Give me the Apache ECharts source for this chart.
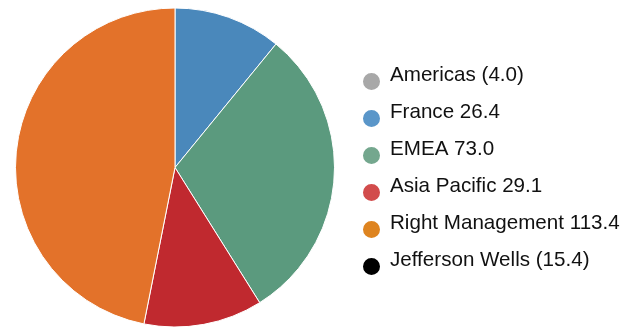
<!DOCTYPE html>
<html>
<head>
<meta charset="utf-8">
<script src="https://cdn.jsdelivr.net/npm/echarts@6/dist/echarts.min.js"></script>
<style>html,body{margin:0;padding:0;background:#fff}#c{width:636px;height:329px}</style>
</head>
<body>
<div id="c"></div>
<script>
const categories = ['Americas', 'France', 'EMEA', 'Asia Pacific', 'Right Management', 'Jefferson Wells'];
const values = [-4.0, 26.4, 73.0, 29.1, 113.4, -15.4];
const sliceColors = ['#a8a8a8', '#4a88bb', '#5b9a7e', '#c0292f', '#e3722a', '#000000'];
const legendColors = ['#a8a8a8', '#5a96c9', '#74a78e', '#d24c4c', '#de8420', '#000000'];

function fmt(v) { return v < 0 ? '(' + Math.abs(v).toFixed(1) + ')' : v.toFixed(1); }

const chart = echarts.init(document.getElementById('c'), null, { renderer: 'canvas' });
const labelMap = {};
categories.forEach((c, i) => { labelMap[c] = c + ' ' + fmt(values[i]); });

chart.setOption({
  animation: false,
  legend: {
    orient: 'vertical',
    left: 361,
    top: 65,
    padding: 0,
    itemGap: 4,
    itemWidth: 19,
    itemHeight: 19,
    icon: 'circle',
    selectedMode: false,
    formatter: name => '{t|' + labelMap[name] + '}',
    textStyle: {
      fontFamily: 'Liberation Sans, Arial, sans-serif', fontSize: 20.6, color: '#111',
      rich: { t: { fontFamily: 'Liberation Sans, Arial, sans-serif', fontSize: 20.6, color: '#111', lineHeight: 20, padding: [0, 0, 12, 4] } }
    },
    data: categories.map((c, i) => ({ name: c, itemStyle: { color: legendColors[i] } }))
  },
  series: [{
    type: 'pie',
    center: [175, 167.5],
    radius: [0, 159.5],
    startAngle: 90,
    clockwise: true,
    label: { show: false },
    labelLine: { show: false },
    emphasis: { disabled: true },
    itemStyle: { borderColor: '#fff', borderWidth: 1 },
    data: categories.map((c, i) => ({
      name: c,
      value: values[i] > 0 ? values[i] : '-',
      itemStyle: { color: sliceColors[i] }
    }))
  }]
});
</script>
</body>
</html>
